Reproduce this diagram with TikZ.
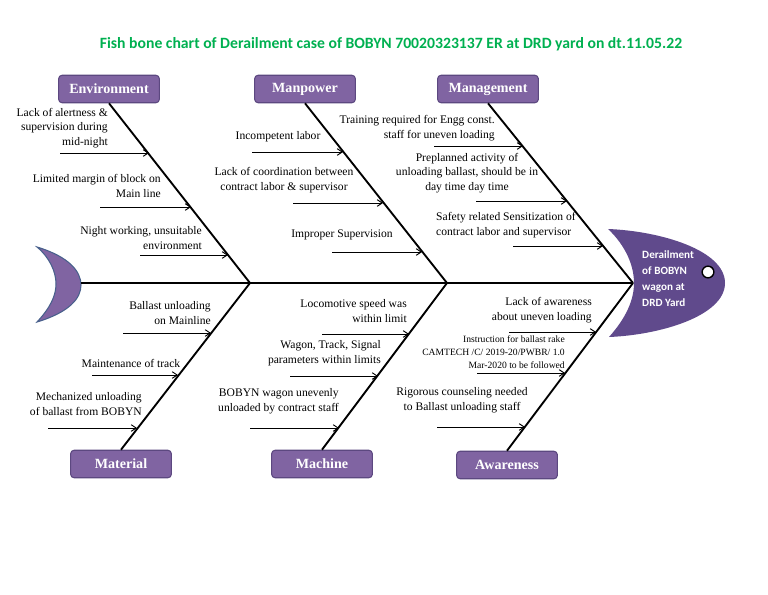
\documentclass[tikz,border=0pt]{standalone}
\usepackage{fontspec}
\setmainfont{Liberation Serif}
\newfontfamily\calibfont{Carlito}
\usepackage{tikz}
\usetikzlibrary{arrows.meta}
\definecolor{fbgreen}{RGB}{0,176,80}
\definecolor{fbcat}{RGB}{128,100,162}
\definecolor{fbcatedge}{RGB}{92,72,128}
\definecolor{fbhead}{RGB}{96,74,140}
\definecolor{fbmoonedge}{RGB}{72,96,140}
\tikzset{
  cat/.style={
    draw=fbcatedge, fill=fbcat, line width=0.9pt, rounded corners=3pt,
    minimum width=86pt, minimum height=23.5pt, inner sep=0pt,
    text=white, font=\fontsize{12}{14}\selectfont\bfseries
  },
  cause/.style={inner sep=0pt, font=\fontsize{9.9}{12.6}\selectfont},
  causer/.style={cause, anchor=east, align=right},
  causel/.style={cause, anchor=west, align=left},
  causec/.style={cause, align=center},
  small/.style={inner sep=0pt, anchor=east, align=right,
    font=\fontsize{8.2}{11}\selectfont},
  ttl/.style={text=fbgreen, font=\calibfont\fontsize{13.4}{15}\selectfont\bfseries},
  headtxt/.style={anchor=west, align=left, inner sep=0pt, text=white,
    font=\calibfont\fontsize{9.5}{13.6}\selectfont\bfseries},
  bone/.style={draw=black, line width=1.6pt},
  arr/.style={-{Straight Barb[length=1.5mm,width=2mm]}, draw=black, line width=0.8pt}
}

\begin{document}
\begin{tikzpicture}[x=0.03cm, y=-0.03cm]
  \useasboundingbox (0,0) rectangle (768,594);

  \node[ttl] (title) at (391,44) {Fish bone chart of Derailment case of BOBYN 70020323137 ER at DRD yard on dt.11.05.22};

  % tail and head
  \draw[fill=fbcat, draw=fbmoonedge, line width=0.9pt]
    (37,247) .. controls (70,257) and (81,272) .. (81,285)
    .. controls (81,298) and (70,312) .. (37,322)
    .. controls (50,308) and (56,296) .. (56,284)
    .. controls (56,272) and (50,258) .. (37,247) -- cycle;
  \fill[fbhead]
    (608,229) .. controls (660,231) and (725,250) .. (725,283)
    .. controls (725,316) and (660,335) .. (609,337)
    .. controls (626,318) and (634,300) .. (634,283)
    .. controls (634,266) and (626,246) .. (608,229) -- cycle;
  \node[draw=black, fill=white, circle, line width=1.2pt, minimum size=10pt, inner sep=0pt] (eye) at (708,272) {};
  \node[headtxt] (effect) at (642,279) {Derailment\\of BOBYN\\wagon at\\DRD Yard};

  \coordinate (tail) at (81,283);
  \coordinate (jA) at (250,283);
  \coordinate (jB) at (447,283);
  \coordinate (jC) at (633,283);
  \draw[bone] (tail) -- (jC);

  % categories
  \node[cat] (env) at (109,89) {Environment};
  \node[cat] (man) at (305,89) {Manpower};
  \node[cat] (mgt) at (488,89) {Management};
  \node[cat] (mat) at (121,464) {Material};
  \node[cat] (mac) at (322,464) {Machine};
  \node[cat] (awr) at (507,465) {Awareness};

  \draw[bone] (env.south) -- (jA);
  \draw[bone] (man.south) -- (jB);
  \draw[bone] (mgt.south) -- (jC);
  \draw[bone] (mat.north) -- (jA);
  \draw[bone] (mac.north) -- (jB);
  \draw[bone] (awr.north) -- (jC);

  % Environment
  \node[causer] (env1) at (108,128) {Lack of alertness \&\\supervision during\\mid-night};
  \node[causer] (env2) at (161,186) {Limited margin of block on\\Main line};
  \node[causer] (env3) at (202,238) {Night working, unsuitable\\environment};
  \coordinate (e1s) at (60,153);  \coordinate (e1e) at (149,153);
  \coordinate (e2s) at (100,207); \coordinate (e2e) at (191,207);
  \coordinate (e3s) at (140,255); \coordinate (e3e) at (228,255);
  \draw[arr] (e1s) -- (e1e);
  \draw[arr] (e2s) -- (e2e);
  \draw[arr] (e3s) -- (e3e);

  % Manpower
  \node[causec] (man1) at (278,137) {Incompetent labor};
  \node[causec] (man2) at (284,180) {Lack of coordination between\\contract labor \& supervisor};
  \node[causec] (man3) at (342,235) {Improper Supervision};
  \coordinate (m1s) at (252,152); \coordinate (m1e) at (343,152);
  \coordinate (m2s) at (293,203); \coordinate (m2e) at (383,203);
  \coordinate (m3s) at (332,252); \coordinate (m3e) at (422,252);
  \draw[arr] (m1s) -- (m1e);
  \draw[arr] (m2s) -- (m2e);
  \draw[arr] (m3s) -- (m3e);

  % Management
  \node[causer] (mgt1) at (495,128) {Training required for Engg const.\\staff for uneven loading};
  \node[causec] (mgt2) at (467,173) {Preplanned activity of\\unloading ballast, should be in\\day time day time};
  \node[causel] (mgt3) at (436,225) {Safety related Sensitization of\\contract labor and supervisor};
  \coordinate (g1s) at (434,146); \coordinate (g1e) at (523,146);
  \coordinate (g2s) at (476,201); \coordinate (g2e) at (567,201);
  \coordinate (g3s) at (513,246); \coordinate (g3e) at (603,246);
  \draw[arr] (g1s) -- (g1e);
  \draw[arr] (g2s) -- (g2e);
  \draw[arr] (g3s) -- (g3e);

  % Material
  \node[causer] (mat1) at (211,313) {Ballast unloading\\on Mainline};
  \node[causec] (mat2) at (131,363) {Maintenance of track};
  \node[causer] (mat3) at (142,404) {Mechanized unloading\\of ballast from BOBYN};
  \coordinate (t1s) at (123,333); \coordinate (t1e) at (211,333);
  \coordinate (t2s) at (92,375);  \coordinate (t2e) at (178,375);
  \coordinate (t3s) at (48,428);  \coordinate (t3e) at (137,428);
  \draw[arr] (t1s) -- (t1e);
  \draw[arr] (t2s) -- (t2e);
  \draw[arr] (t3s) -- (t3e);

  % Machine
  \node[causer] (mac1) at (407,311) {Locomotive speed was\\within limit};
  \node[causer] (mac2) at (381,353) {Wagon, Track, Signal\\parameters within limits};
  \node[causer] (mac3) at (339,401) {BOBYN wagon unevenly\\unloaded by contract staff};
  \coordinate (c1s) at (322,334); \coordinate (c1e) at (409,334);
  \coordinate (c2s) at (290,376); \coordinate (c2e) at (378,376);
  \coordinate (c3s) at (250,428); \coordinate (c3e) at (339,428);
  \draw[arr] (c1s) -- (c1e);
  \draw[arr] (c2s) -- (c2e);
  \draw[arr] (c3s) -- (c3e);

  % Awareness
  \node[causer] (awr1) at (592,310) {Lack of awareness\\about uneven loading};
  \node[small] (awr2) at (565,352) {Instruction for ballast rake\\CAMTECH /C/ 2019-20/PWBR/ 1.0\\Mar-2020 to be followed};
  \node[causec] (awr3) at (462,400) {Rigorous counseling needed\\to Ballast unloading staff};
  \coordinate (a1s) at (509,332); \coordinate (a1e) at (596,332);
  \coordinate (a2s) at (477,373); \coordinate (a2e) at (565,373);
  \coordinate (a3s) at (437,427); \coordinate (a3e) at (525,427);
  \draw[arr] (a1s) -- (a1e);
  \draw[arr] (a2s) -- (a2e);
  \draw[arr] (a3s) -- (a3e);
\end{tikzpicture}
\end{document}
